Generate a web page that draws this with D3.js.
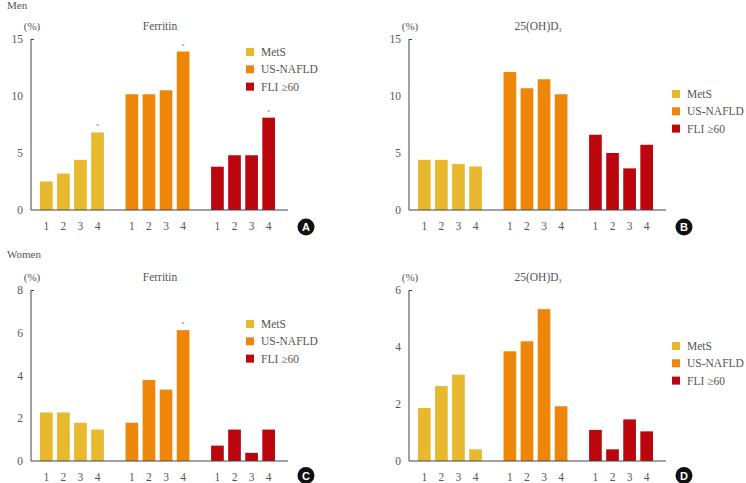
<!DOCTYPE html>
<html>
<head>
<meta charset="utf-8">
<script src="https://cdn.jsdelivr.net/npm/d3@7"></script>
<style>
  body { margin: 0; background: #fff; }
  svg text { font-family: "Liberation Serif", "DejaVu Serif", serif; fill: #555; }
</style>
</head>
<body>
<svg width="746" height="483"></svg>
<script>
// categories
var groups = ["MetS", "US-NAFLD", "FLI ≥60"];
var quartiles = ["1", "2", "3", "4"];
var colors = ["#e8b92f", "#ee860a", "#bb060e"];

// values (%)
var menFerritin = [[2.5, 3.2, 4.4, 6.8], [10.15, 10.15, 10.5, 13.9], [3.8, 4.8, 4.8, 8.1]];
var menVitD = [[4.4, 4.4, 4.03, 3.82], [12.1, 10.68, 11.47, 10.15], [6.6, 5.0, 3.65, 5.72]];
var womenFerritin = [[2.27, 2.27, 1.79, 1.47], [1.79, 3.79, 3.34, 6.12], [0.72, 1.47, 0.38, 1.47]];
var womenVitD = [[1.86, 2.63, 3.03, 0.41], [3.85, 4.2, 5.33, 1.92], [1.09, 0.41, 1.46, 1.04]];

// y ticks
var ticksMen = [0, 5, 10, 15];
var ticksWomenFerritin = [0, 2, 4, 6, 8];
var ticksWomenVitD = [0, 2, 4, 6];

// "a" marks (group, quartile)
var marksMenFerritin = [[0, 3], [1, 3], [2, 3]];
var marksWomenFerritin = [[1, 3]];

var svg = d3.select("svg");

var panels = [
  { x: 31, top: 39, data: menFerritin, ticks: ticksMen, title: "Ferritin", badge: "A", badgeDy: 17, legendY: 13, marks: marksMenFerritin },
  { x: 409, top: 39, data: menVitD, ticks: ticksMen, title: "vit", badge: "B", badgeDy: 17, legendY: 55, marks: [] },
  { x: 31, top: 290, data: womenFerritin, ticks: ticksWomenFerritin, title: "Ferritin", badge: "C", badgeDy: 14.5, legendY: 34, marks: marksWomenFerritin },
  { x: 409, top: 290, data: womenVitD, ticks: ticksWomenVitD, title: "vit", badge: "D", badgeDy: 14.5, legendY: 56, marks: [] }
];

var plotW = 257, plotH = 171;

svg.append("text").attr("x", 7).attr("y", 9).style("font-size", "11px").text("Men");
svg.append("text").attr("x", 7).attr("y", 258).style("font-size", "11px").text("Women");

panels.forEach(function(p) {
  var g = svg.append("g").attr("transform", "translate(" + p.x + "," + p.top + ")");

  var y = d3.scaleLinear()
    .domain([0, d3.max(p.ticks)])
    .range([plotH, 0]);

  var x0 = d3.scaleBand()
    .domain(groups)
    .range([0, 253])
    .paddingInner(0.253)
    .paddingOuter(0.105);

  var x1 = d3.scaleBand()
    .domain(quartiles)
    .range([0, x0.bandwidth()])
    .paddingInner(0.257);

  var labelY = p.top < 100 ? plotH + 20 : plotH + 19.5;

  // bars
  groups.forEach(function(grp, gi) {
    g.append("g")
      .selectAll("rect")
      .data(p.data[gi])
      .enter().append("rect")
      .attr("x", function(d, i) { return x0(grp) + x1(quartiles[i]); })
      .attr("y", function(d) { return y(d); })
      .attr("width", x1.bandwidth())
      .attr("height", function(d) { return plotH - y(d); })
      .attr("fill", colors[gi]);

    g.append("g")
      .selectAll("text")
      .data(quartiles)
      .enter().append("text")
      .attr("x", function(d) { return x0(grp) + x1(d) + x1.bandwidth() / 2; })
      .attr("y", labelY)
      .attr("text-anchor", "middle")
      .style("font-size", "11.5px")
      .text(function(d) { return d; });
  });

  // significance marks
  g.selectAll("text.mark")
    .data(p.marks)
    .enter().append("text")
    .attr("class", "mark")
    .attr("x", function(m) { return x0(groups[m[0]]) + x1(quartiles[m[1]]) + x1.bandwidth() / 2; })
    .attr("y", function(m) { return y(p.data[m[0]][m[1]]) - 6; })
    .attr("text-anchor", "middle")
    .style("font-size", "5px")
    .text("a");

  // axes
  var yAxis = d3.axisLeft(y).tickValues(p.ticks).tickSize(0).tickPadding(8).tickFormat(d3.format("d"));
  var ya = g.append("g").call(yAxis);
  ya.select(".domain").remove();
  ya.selectAll("text").style("font-size", "11.5px");

  g.append("line").attr("x1", 0).attr("x2", 0).attr("y1", 0).attr("y2", plotH)
    .attr("stroke", "#444").attr("stroke-width", 1);
  g.append("line").attr("x1", 0).attr("x2", 3).attr("y1", 0.5).attr("y2", 0.5)
    .attr("stroke", "#444").attr("stroke-width", 1);
  g.append("line").attr("x1", 0).attr("x2", plotW).attr("y1", plotH).attr("y2", plotH)
    .attr("stroke", "#444").attr("stroke-width", 1);

  g.append("text").attr("x", 1).attr("y", -9).attr("text-anchor", "middle")
    .style("font-size", "11px").text("(%)");

  var title = g.append("text").attr("x", plotW / 2 + 0.5).attr("y", -9)
    .attr("text-anchor", "middle").style("font-size", "11.5px");
  if (p.title == "vit") {
    title.append("tspan").text("25(OH)D");
    title.append("tspan").attr("dy", 2).style("font-size", "6px").text("3");
  } else {
    title.text(p.title);
  }

  // legend
  var lx = p.x == 31 ? 215 : 263;
  var leg = g.append("g").selectAll("g")
    .data(groups)
    .enter().append("g")
    .attr("transform", function(d, i) { return "translate(" + lx + "," + (p.legendY + i * 17.3) + ")"; });
  leg.append("rect").attr("x", 0).attr("y", -4).attr("width", 8).attr("height", 8)
    .attr("fill", function(d, i) { return colors[i]; });
  leg.append("text").attr("x", 15).attr("y", 4).style("font-size", "11.5px")
    .text(function(d) { return d; });

  // badge
  var b = g.append("g").attr("transform", "translate(" + (plotW + 18) + "," + (plotH + p.badgeDy) + ")");
  b.append("circle").attr("r", 8.5).attr("fill", "#111");
  b.append("text").attr("y", 4).attr("text-anchor", "middle")
    .style("font-family", "'Liberation Sans', Arial, sans-serif").style("font-weight", "bold")
    .style("font-size", "11px").style("fill", "#fff").text(p.badge);
});
</script>
</body>
</html>
